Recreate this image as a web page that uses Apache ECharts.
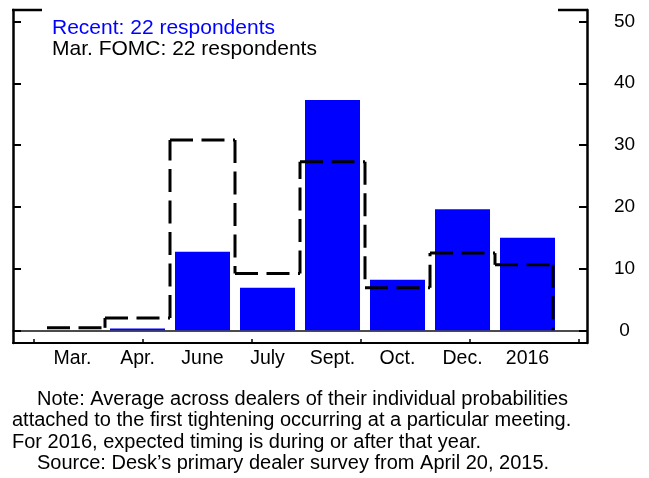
<!DOCTYPE html>
<html>
<head>
<meta charset="utf-8">
<script src="https://cdn.jsdelivr.net/npm/echarts@6/dist/echarts.min.js"></script>
<style>
  html, body { margin: 0; padding: 0; background: #fff; }
  #chart { width: 649px; height: 478px; }
</style>
</head>
<body>
<div id="chart"></div>
<script>
// FOMC meetings at which the first tightening could occur
const meetings = ['Mar.', 'Apr.', 'June', 'July', 'Sept.', 'Oct.', 'Dec.', '2016'];
// Average probability (percent) from the latest survey
const recent = [0, 0.3, 12.7, 6.9, 37.3, 8.2, 19.6, 15.0];
// Average probability (percent) from the survey before the March FOMC
const marFomc = [0.4, 2.0, 30.8, 9.2, 27.3, 6.9, 12.5, 10.6];
// Percent scale on the side axes
const percentTicks = [0, 10, 20, 30, 40, 50];

const recentName = 'Recent: 22 respondents';
const fomcName = 'Mar. FOMC: 22 respondents';
const noteLines = [
  'Note: Average across dealers of their individual probabilities',
  'attached to the first tightening occurring at a particular meeting.',
  'For 2016, expected timing is during or after that year.',
  'Source: Desk\u2019s primary dealer survey from April 20, 2015.'
];

const FONT = '"Liberation Sans", Arial, Helvetica, sans-serif';
const BAR_W = 55;
const BLUE = '#0000ff';

const chart = echarts.init(document.getElementById('chart'), null, { renderer: 'canvas' });

// Step outline of the March-survey distribution, one piece per meeting
function renderStep(params, api) {
  const i = api.value(0);
  const last = i === meetings.length - 1;
  const c = api.coord([i, api.value(1)]);
  const half = api.size([1, 0])[0] / 2;
  const yPrev = api.coord([i, api.value(2)])[1];
  const yZero = api.coord([i, 0])[1];
  const x0 = i === 0 ? c[0] - BAR_W / 2 + 2 : c[0] - half;
  const x1 = last ? c[0] + BAR_W / 2 - 2 : c[0] + half;
  const style = { stroke: '#000', lineWidth: 3, lineDash: [23, 8.5], fill: null };
  const children = [];
  if (i > 0) {
    children.push({ type: 'line', shape: { x1: x0, y1: yPrev, x2: x0, y2: c[1] }, style });
  }
  children.push({ type: 'line', shape: { x1: x0, y1: c[1], x2: x1, y2: c[1] }, style });
  if (last) {
    children.push({ type: 'line', shape: { x1: x1, y1: c[1], x2: x1, y2: yZero }, style });
  }
  return { type: 'group', children };
}

const hidden = { show: false };
const pMin = percentTicks[0];
const pMax = percentTicks[percentTicks.length - 1];
const pStep = percentTicks[1] - percentTicks[0];

const option = {
  animation: false,
  backgroundColor: '#fff',
  textStyle: { fontFamily: FONT, color: '#000' },
  grid: [
    // outer frame
    { left: 13, right: 62, top: 10, bottom: 135 },
    // percent scale
    { left: 13, right: 62, top: 21.5, bottom: 147.7 },
    // meeting bands
    { left: 40, right: 89, top: 21.5, bottom: 147.7 },
    // small marks along the bottom frame
    { left: 34, right: 70, top: 10, bottom: 135 }
  ],
  xAxis: [
    {
      gridIndex: 0, type: 'value', min: 0, max: 1,
      axisLine: { show: true, lineStyle: { color: '#000', width: 2 } },
      axisTick: hidden, axisLabel: hidden, splitLine: hidden
    },
    {
      gridIndex: 1, type: 'value', min: 0, max: 1,
      axisLine: { show: true, lineStyle: { color: '#111', width: 1.5 } },
      axisTick: hidden, axisLabel: hidden, splitLine: hidden
    },
    {
      gridIndex: 2, type: 'category', data: meetings,
      axisLine: hidden, axisTick: hidden, splitLine: hidden,
      axisLabel: { show: true, interval: 0, margin: 18, fontSize: 19.5, color: '#000', fontFamily: FONT }
    },
    {
      gridIndex: 3, type: 'value', min: 0, max: 5, interval: 1,
      axisLine: hidden, axisLabel: hidden, splitLine: hidden,
      axisTick: { show: true, inside: true, length: 4, lineStyle: { color: '#000', width: 1.5 } }
    }
  ],
  yAxis: [
    {
      gridIndex: 0, type: 'value', min: 0, max: 1, position: 'left',
      axisLine: { show: true, lineStyle: { color: '#000', width: 2.5 } },
      axisTick: hidden, axisLabel: hidden, splitLine: hidden
    },
    {
      gridIndex: 0, type: 'value', min: 0, max: 1, position: 'right',
      axisLine: { show: true, lineStyle: { color: '#000', width: 2.5 } },
      axisTick: hidden, axisLabel: hidden, splitLine: hidden
    },
    {
      gridIndex: 1, type: 'value', min: pMin, max: pMax, interval: pStep, position: 'left',
      axisLine: hidden, axisLabel: hidden, splitLine: hidden,
      axisTick: { show: true, inside: true, length: 8, lineStyle: { color: '#000', width: 2 } }
    },
    {
      gridIndex: 1, type: 'value', min: pMin, max: pMax, interval: pStep, position: 'right',
      axisLine: hidden, splitLine: hidden,
      axisTick: { show: true, inside: true, length: 8, lineStyle: { color: '#000', width: 2 } },
      axisLabel: { show: true, margin: 37.5, align: 'center', fontSize: 19, color: '#000', fontFamily: FONT }
    },
    { gridIndex: 2, type: 'value', min: pMin, max: pMax, show: false },
    { gridIndex: 3, type: 'value', min: 0, max: 1, show: false }
  ],
  legend: {
    left: 47, top: 18, orient: 'vertical', padding: 0, itemGap: 0,
    itemWidth: 0, itemHeight: 0, icon: 'none', selectedMode: false,
    textStyle: { fontSize: 21, fontFamily: FONT, lineHeight: 20 },
    data: [
      { name: recentName, textStyle: { color: BLUE } },
      { name: fomcName, textStyle: { color: '#000' } }
    ]
  },
  graphic: [
    { type: 'line', shape: { x1: 12, y1: 10, x2: 42, y2: 10 }, style: { stroke: '#000', lineWidth: 2.5 } },
    { type: 'line', shape: { x1: 558, y1: 10, x2: 588, y2: 10 }, style: { stroke: '#000', lineWidth: 2.5 } }
  ].concat(noteLines.map((t, i) => ({
    type: 'text',
    x: (i === 0 || i === 3) ? 37 : 12,
    y: 399 + i * 21.6,
    style: { text: t, fontSize: 20, fontFamily: FONT, fill: '#000', verticalAlign: 'middle' }
  }))),
  series: [
    {
      name: recentName, type: 'bar', xAxisIndex: 2, yAxisIndex: 4,
      data: recent, barWidth: BAR_W, itemStyle: { color: BLUE }, z: 2
    },
    {
      name: fomcName, type: 'custom', xAxisIndex: 2, yAxisIndex: 4,
      data: marFomc.map((v, i) => [i, v, i > 0 ? marFomc[i - 1] : v]),
      renderItem: renderStep, z: 3
    }
  ]
};

chart.setOption(option);
</script>
</body>
</html>
